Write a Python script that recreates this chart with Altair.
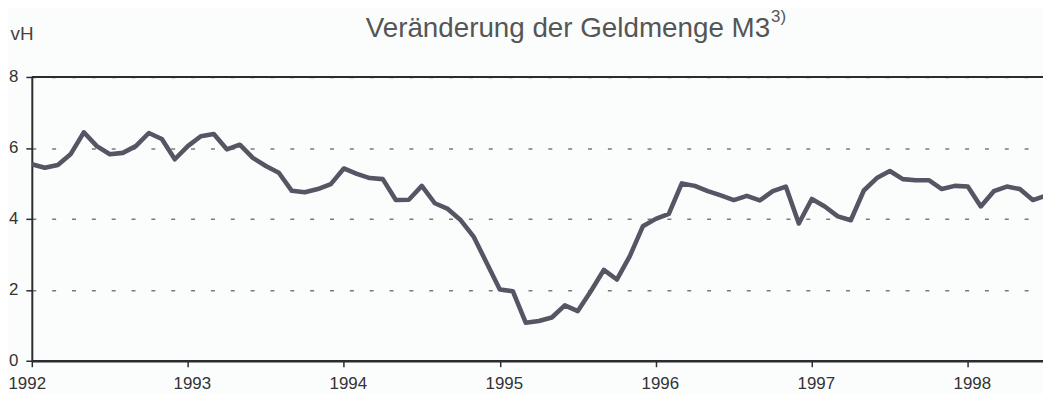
import altair as alt
import pandas as pd

# Monthly growth of money stock M3 (vH), Jan 1992 onwards
values = [
    5.54, 5.44, 5.52, 5.83, 6.44, 6.05, 5.82, 5.86, 6.05, 6.42, 6.25, 5.68,
    6.05, 6.33, 6.39, 5.96, 6.09, 5.72, 5.49, 5.30, 4.79, 4.75, 4.84, 4.98,
    5.42, 5.27, 5.15, 5.12, 4.53, 4.54, 4.93, 4.44, 4.28, 3.96, 3.49, 2.75,
    2.01, 1.96, 1.07, 1.12, 1.22, 1.56, 1.40, 1.96, 2.56, 2.29, 2.95, 3.79,
    4.00, 4.14, 5.00, 4.93, 4.78, 4.66, 4.53, 4.65, 4.52, 4.78, 4.91, 3.87,
    4.56, 4.35, 4.07, 3.96, 4.80, 5.15, 5.35, 5.12, 5.09, 5.09, 4.84, 4.93,
    4.91, 4.35, 4.78, 4.91, 4.84, 4.53, 4.65,
]
start_year = 1992
year_ticks = [1992, 1993, 1994, 1995, 1996, 1997, 1998]
y_ticks = [0, 2, 4, 6, 8]
x_domain = [1992, 1998.482]
y_domain = [0, 8]
top_value = [8]
title_main = ["Veränderung der Geldmenge M3"]
title_sup = ["3)"]

months = pd.date_range(f"{start_year}-01-01", periods=len(values), freq="MS")
df = pd.DataFrame({"t": [m.year + (m.month - 1) / 12 for m in months], "v": values})
top_df = pd.DataFrame({"top": top_value, "title": title_main, "sup": title_sup})

FONT = "Liberation Sans"
DARK = "#2b2b30"

x_scale = alt.Scale(domain=x_domain, nice=False, zero=False)
y_scale = alt.Scale(domain=y_domain, nice=False, zero=True)

line = alt.Chart(df).mark_line(
    color="#555563", strokeWidth=4.6, clip=True, strokeJoin="round"
).encode(
    x=alt.X(
        "t:Q",
        scale=x_scale,
        axis=alt.Axis(
            values=year_ticks,
            format="d",
            title=None,
            grid=False,
            domainColor=DARK,
            domainWidth=2.5,
            tickColor=DARK,
            tickSize=6,
            tickWidth=1.5,
            labelFontSize=17,
            labelFont=FONT,
            labelColor="#333333",
            labelPadding=9,
            labelFlush=False,
            labelBound=False,
            labelOverlap=False,
            labelAlign=alt.expr("datum.value == 1992 ? 'left' : 'center'"),
            labelOffset=alt.expr("datum.value == 1992 ? -24 : 4"),
        ),
    ),
    y=alt.Y(
        "v:Q",
        scale=y_scale,
        axis=alt.Axis(
            values=y_ticks,
            title="vH",
            titleAngle=0,
            titleAlign="left",
            titleBaseline="alphabetic",
            titleX=-22,
            titleY=-38,
            titleFontSize=19,
            titleFont=FONT,
            titleFontWeight="normal",
            titleColor="#444444",
            grid=True,
            gridDash=[4, 16],
            gridColor="#7a7a7a",
            gridWidth=1.5,
            domainColor=DARK,
            domainWidth=2,
            tickColor=DARK,
            tickSize=6,
            tickWidth=1.5,
            labelFontSize=17,
            labelFont=FONT,
            labelColor="#333333",
            labelPadding=8,
        ),
    ),
)

top_rule = alt.Chart(top_df).mark_rule(color=DARK, strokeWidth=2).encode(
    y=alt.Y("top:Q", scale=y_scale)
)

title = alt.Chart(top_df).mark_text(
    font=FONT, fontSize=28, color="#555555", align="right", baseline="alphabetic"
).encode(text="title:N", x=alt.value(744), y=alt.value(-40))

title_sup_mark = alt.Chart(top_df).mark_text(
    font=FONT, fontSize=17, color="#555555", align="left", baseline="alphabetic"
).encode(text="sup:N", x=alt.value(745), y=alt.value(-55))

chart = (
    alt.layer(top_rule, line, title, title_sup_mark)
    .properties(
        width=1019,
        height=286,
        autosize=alt.AutoSizeParams(type="none"),
        padding={"left": 24, "top": 68, "right": 0, "bottom": 32},
        background="#fbfdfd",
    )
    .configure_view(stroke=None)
)

chart.save("out.html", embed_options={"renderer": "svg", "actions": False})
